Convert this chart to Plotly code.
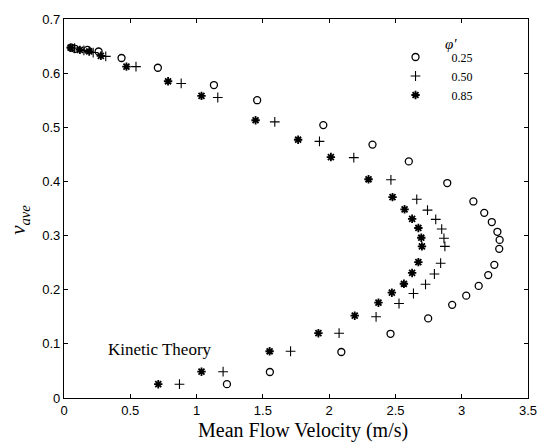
import plotly.graph_objects as go

# phi' = 0.25 (open circles)
x_025 = [0.055, 0.083, 0.177, 0.261, 0.434, 0.708, 1.131, 1.457, 1.956, 2.327, 2.601, 2.891,
         3.088, 3.17, 3.227, 3.269, 3.286, 3.283, 3.246, 3.20, 3.128, 3.034, 2.928, 2.747,
         2.463, 2.092, 1.553, 1.229]
y_025 = [0.647, 0.645, 0.643, 0.640, 0.628, 0.610, 0.578, 0.550, 0.504, 0.468, 0.437, 0.397,
         0.363, 0.342, 0.325, 0.307, 0.292, 0.2755, 0.246, 0.227, 0.207, 0.189, 0.172, 0.147,
         0.1186, 0.085, 0.048, 0.0255]

# phi' = 0.50 (crosses)
x_050 = [0.08, 0.15, 0.22, 0.315, 0.543, 0.884, 1.16, 1.59, 1.927, 2.186, 2.466, 2.661, 2.742,
         2.804, 2.849, 2.866, 2.873, 2.841, 2.794, 2.727, 2.636, 2.527, 2.354, 2.075, 1.709,
         1.20, 0.871]
y_050 = [0.646, 0.642, 0.638, 0.631, 0.612, 0.581, 0.555, 0.510, 0.474, 0.444, 0.403, 0.367,
         0.347, 0.330, 0.312, 0.295, 0.280, 0.249, 0.229, 0.210, 0.193, 0.1745, 0.150, 0.1197,
         0.0863, 0.0486, 0.0255]

# phi' = 0.85 (asterisks)
x_085 = [0.05, 0.12, 0.19, 0.278, 0.471, 0.785, 1.037, 1.445, 1.766, 2.013, 2.297, 2.478,
         2.569, 2.626, 2.673, 2.695, 2.70, 2.673, 2.626, 2.564, 2.473, 2.372, 2.193, 1.919,
         1.551, 1.037, 0.711]
y_085 = [0.647, 0.643, 0.640, 0.632, 0.612, 0.585, 0.558, 0.513, 0.477, 0.445, 0.404, 0.371,
         0.3485, 0.331, 0.314, 0.296, 0.280, 0.251, 0.231, 0.211, 0.1945, 0.176, 0.152, 0.1197,
         0.0863, 0.0486, 0.0255]

x_ticks = [0, 0.5, 1, 1.5, 2, 2.5, 3, 3.5]
x_ticklabels = ["0", "0.5", "1", "1.5", "2", "2.5", "3", "3.5"]
y_ticks = [0, 0.1, 0.2, 0.3, 0.4, 0.5, 0.6, 0.7]
y_ticklabels = ["0", "0.1", "0.2", "0.3", "0.4", "0.5", "0.6", "0.7"]

serif = "Liberation Serif, DejaVu Serif, serif"
sans = "Liberation Sans, Arial, sans-serif"

fig = go.Figure()
fig.add_trace(go.Scatter(x=x_025, y=y_025, mode="markers", name="0.25",
                         marker=dict(symbol="circle-open", size=7, color="black",
                                     line=dict(width=1.3, color="black"))))
fig.add_trace(go.Scatter(x=x_050, y=y_050, mode="markers", name="0.50",
                         marker=dict(symbol="cross-thin-open", size=7, color="black",
                                     line=dict(width=1.1, color="black"))))
fig.add_trace(go.Scatter(x=x_085, y=y_085, mode="markers", name="0.85",
                         marker=dict(symbol="asterisk-open", size=7, color="black",
                                     line=dict(width=1.8, color="black"))))

fig.add_annotation(x=0.32, y=0.09, xref="x", yref="y", text="Kinetic Theory", showarrow=False,
                   xanchor="left", yanchor="middle", font=dict(family=serif, size=17, color="black"))

# legend header
fig.add_annotation(x=0.835, y=0.935, xref="paper", yref="paper", text="<i>φ′</i>",
                   showarrow=False, xanchor="center", yanchor="middle",
                   font=dict(family=serif, size=15, color="black"))

# axis titles
fig.add_annotation(x=0.515, y=-0.085, xref="paper", yref="paper", text="Mean Flow Velocity (m/s)",
                   showarrow=False, xanchor="center", yanchor="middle",
                   font=dict(family=serif, size=20, color="black"))
fig.add_annotation(x=-0.097, y=0.47, xref="paper", yref="paper", text="<i>ν<sub>ave</sub></i>",
                   showarrow=False, textangle=-90, xanchor="center", yanchor="middle",
                   font=dict(family=serif, size=21, color="black"))

fig.update_layout(
    width=549, height=444,
    margin=dict(l=64, r=13, t=15, b=46),
    paper_bgcolor="white", plot_bgcolor="white",
    showlegend=True,
    legend=dict(x=0.68, y=0.938, xanchor="left", yanchor="top",
                bgcolor="rgba(0,0,0,0)",
                font=dict(family=serif, size=12, color="black"),
                tracegroupgap=0, itemwidth=62),
    xaxis=dict(range=[0, 3.5], tickvals=x_ticks, ticktext=x_ticklabels,
               showgrid=False, zeroline=False, showline=True, linecolor="black", linewidth=1.2,
               mirror="ticks", ticks="inside", ticklen=4, tickcolor="black",
               tickfont=dict(family=sans, size=13, color="black")),
    yaxis=dict(range=[0, 0.7], tickvals=y_ticks, ticktext=y_ticklabels,
               showgrid=False, zeroline=False, showline=True, linecolor="black", linewidth=1.2,
               mirror="ticks", ticks="inside", ticklen=4, tickcolor="black",
               tickfont=dict(family=sans, size=13, color="black")),
)

fig.write_html("out.html")
